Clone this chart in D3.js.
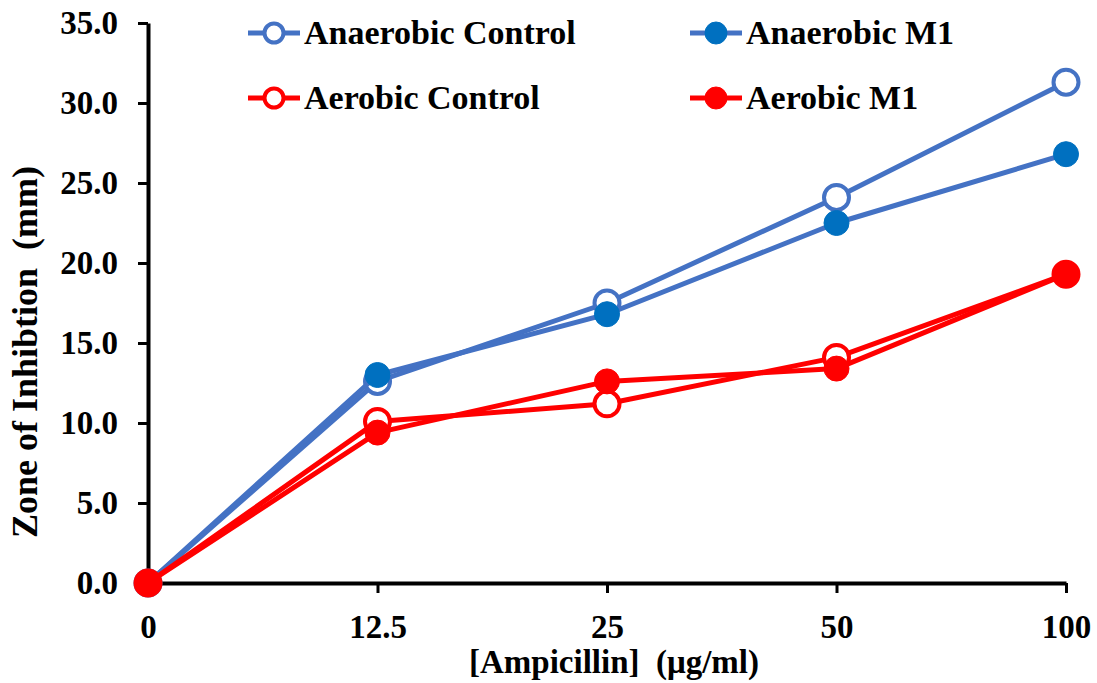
<!DOCTYPE html>
<html>
<head>
<meta charset="utf-8">
<script src="https://cdn.jsdelivr.net/npm/d3@7"></script>
</head>
<body style="margin:0">
<svg id="chart"></svg>
<script>
var width = 1097,
    height = 683;

// doses on the category axis
var doses = ["0", "12.5", "25", "50", "100"];
var yTicks = [0, 5, 10, 15, 20, 25, 30, 35];

// zone of inhibition (mm), one array per series
var anaerobicControl = [0, 12.6, 17.5, 24.1, 31.3];
var anaerobicM1      = [0, 13.0, 16.8, 22.5, 26.8];
var aerobicControl   = [0, 10.1, 11.2, 14.1, 19.3];
var aerobicM1        = [0, 9.4, 12.6, 13.4, 19.3];

var seriesNames = ["Anaerobic Control", "Anaerobic M1", "Aerobic Control", "Aerobic M1"];

var series = [
  {name: seriesNames[0], values: anaerobicControl, line: "#4472C4", fill: "#fff", stroke: "#4472C4", open: true},
  {name: seriesNames[1], values: anaerobicM1, line: "#4472C4", fill: "#0070C0", stroke: "#0070C0", open: false},
  {name: seriesNames[2], values: aerobicControl, line: "#FF0000", fill: "#fff", stroke: "#FF0000", open: true},
  {name: seriesNames[3], values: aerobicM1, line: "#FF0000", fill: "#FF0000", stroke: "#FF0000", open: false}
];

var svg = d3.select("#chart")
    .attr("width", width)
    .attr("height", height);

var x = d3.scalePoint()
    .domain(doses)
    .range([148, 1066]);

var y = d3.scaleLinear()
    .domain([0, 35])
    .range([583, 23]);

function serifText(sel, size) {
  sel.style("font-family", "'Liberation Serif', 'Times New Roman', serif")
     .style("font-weight", "bold")
     .style("font-size", size + "px")
     .style("fill", "#000");
}

// axes
svg.append("g")
    .attr("transform", "translate(" + x("0") + ",0)")
    .call(d3.axisLeft(y)
        .tickValues(yTicks)
        .tickFormat(d3.format(".1f"))
        .tickSize(10)
        .tickSizeOuter(0)
        .tickPadding(20));

svg.append("g")
    .attr("transform", "translate(0," + y(0) + ")")
    .call(d3.axisBottom(x)
        .tickSize(10)
        .tickSizeOuter(0)
        .tickPadding(22));

svg.selectAll("g").attr("font-family", null).attr("font-size", null);
svg.selectAll(".domain").attr("stroke", "#000").attr("stroke-width", 4);
svg.selectAll(".tick line").attr("stroke", "#000").attr("stroke-width", 3);
svg.selectAll(".tick text").call(serifText, 33);

// axis titles
svg.append("text")
    .attr("transform", "translate(37,352) rotate(-90)")
    .attr("text-anchor", "middle")
    .style("white-space", "pre")
    .text("Zone of Inhibtion  (mm)")
    .call(serifText, 36);

svg.append("text")
    .attr("x", 614)
    .attr("y", 673)
    .attr("text-anchor", "middle")
    .style("white-space", "pre")
    .text("[Ampicillin]  (μg/ml)")
    .call(serifText, 33);

// lines and markers
var line = d3.line()
    .x(function(d, i) { return x(doses[i]); })
    .y(function(d) { return y(d); });

var plot = svg.append("g");

series.forEach(function(s) {
  var g = plot.append("g");
  g.append("path")
      .datum(s.values)
      .attr("d", line)
      .attr("fill", "none")
      .attr("stroke", s.line)
      .attr("stroke-width", 5)
      .attr("stroke-linejoin", "round");

  g.selectAll("circle")
      .data(s.values)
    .enter().append("circle")
      .attr("cx", function(d, i) { return x(doses[i]); })
      .attr("cy", function(d) { return y(d); })
      .attr("r", 12.5)
      .attr("fill", s.fill)
      .attr("stroke", s.stroke)
      .attr("stroke-width", s.open ? 4 : 1);
});

// legend, two columns
var legendX = [248, 690],
    legendY = [33, 98];

var legend = svg.append("g");

series.forEach(function(s, i) {
  var lx = legendX[i % 2],
      ly = legendY[Math.floor(i / 2)];
  var item = legend.append("g").attr("transform", "translate(" + lx + "," + ly + ")");
  item.append("line")
      .attr("x1", 0).attr("x2", 52)
      .attr("y1", 0).attr("y2", 0)
      .attr("stroke", s.line)
      .attr("stroke-width", 5);
  item.append("circle")
      .attr("cx", 26).attr("cy", 0)
      .attr("r", s.open ? 9.5 : 11)
      .attr("fill", s.fill)
      .attr("stroke", s.stroke)
      .attr("stroke-width", s.open ? 4 : 1);
  item.append("text")
      .attr("x", 56)
      .attr("y", 11)
      .text(s.name)
      .call(serifText, 34);
});
</script>
</body>
</html>
